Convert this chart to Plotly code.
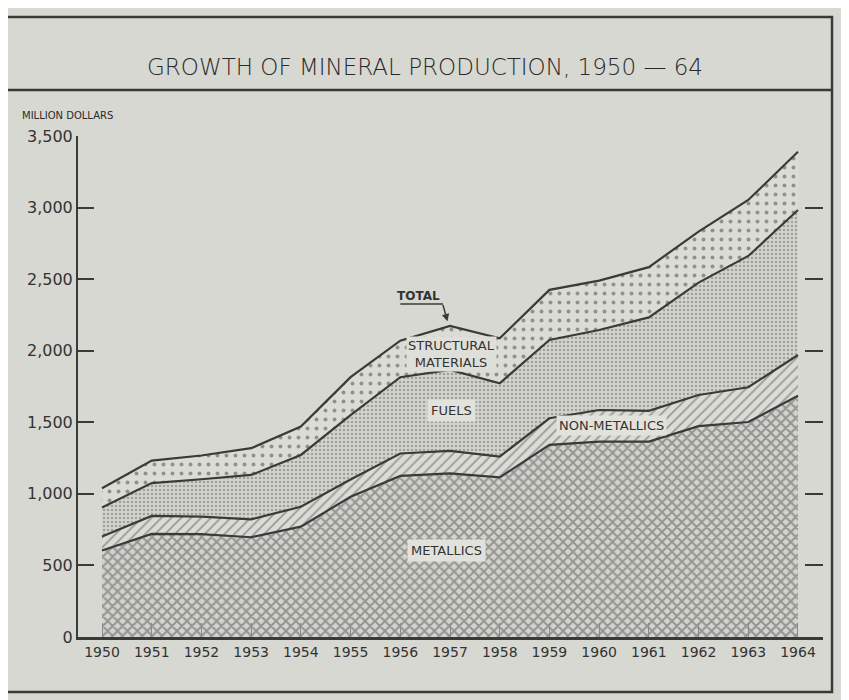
import plotly.graph_objects as go

years = list(range(1950, 1965))
metallics = [604, 720, 718, 697, 771, 980, 1125, 1143, 1115, 1342, 1365, 1365, 1473, 1502, 1685]
non_metallics = [98, 126, 123, 125, 139, 120, 157, 157, 145, 186, 221, 215, 218, 243, 285]
fuels = [202, 229, 261, 310, 362, 450, 533, 566, 513, 547, 559, 653, 785, 917, 1013]
structural = [135, 157, 166, 187, 198, 265, 255, 307, 314, 350, 345, 351, 356, 391, 407]
y_ticks = [0, 500, 1000, 1500, 2000, 2500, 3000, 3500]
y_tick_labels = ["0", "500", "1,000", "1,500", "2,000", "2,500", "3,000", "3,500"]

BG = "rgb(216,216,210)"
LINE = "#3a3a3a"
INK = "#333333"
FONT = "DejaVu Sans"

fig = go.Figure()

series = [
    ("Metallics", metallics, dict(shape="x", size=7, solidity=0.5, fgcolor="#555555", bgcolor="#d4d4ce")),
    ("Non-metallics", non_metallics, dict(shape="/", size=7, solidity=0.25, fgcolor="#555555", bgcolor="#dcdcd6")),
    ("Fuels", fuels, dict(shape=".", size=4, solidity=0.32, fgcolor="#6a6a6a", bgcolor="#d4d4ce")),
    ("Structural materials", structural, dict(shape=".", size=9, solidity=0.15, fgcolor="#444444", bgcolor="#dcdcd6")),
]
for name, vals, pat in series:
    fig.add_trace(go.Scatter(
        x=years, y=vals, name=name, stackgroup="one", mode="lines",
        line=dict(color=LINE, width=2.2), fillpattern=pat, fillcolor="#dcdcd6",
        hoverinfo="x+y+name",
    ))

# right-side tick dashes
fig.add_trace(go.Scatter(x=[years[0]], y=[0], yaxis="y2", mode="markers",
                         marker=dict(opacity=0), showlegend=False, hoverinfo="skip"))

fig.update_layout(
    width=841, height=692,
    margin=dict(l=70, r=26, t=128, b=63),
    paper_bgcolor=BG, plot_bgcolor=BG,
    showlegend=False,
    font=dict(family=FONT, color=INK),
    xaxis=dict(
        range=[1949.517, 1964.503], tickmode="array", tickvals=years,
        ticktext=[str(y) for y in years], ticks="inside", ticklen=14,
        tickcolor="#8a8a8a", tickwidth=1, showgrid=False, zeroline=False,
        showline=True, linecolor=LINE, linewidth=3,
        tickfont=dict(family=FONT, size=14, color=INK),
    ),
    yaxis=dict(
        range=[0, 3500], tickmode="array", tickvals=y_ticks, ticktext=y_tick_labels,
        ticks="inside", ticklen=16, tickwidth=2, tickcolor=LINE,
        showgrid=False, zeroline=False, showline=True, linecolor=LINE, linewidth=2,
        tickfont=dict(family=FONT, size=16, color=INK),
    ),
    yaxis2=dict(
        range=[0, 3500], overlaying="y", side="right", tickmode="array",
        tickvals=y_ticks[1:], ticks="inside", ticklen=18, tickwidth=2, tickcolor=LINE,
        showticklabels=False, showgrid=False, zeroline=False, showline=False,
    ),
)

# frame and title box (paper coordinates)
fig.add_shape(type="rect", xref="paper", yref="paper", x0=-0.0966, x1=1.0121,
              y0=-0.1098, y1=1.2375, line=dict(color=LINE, width=2.5), layer="below")
fig.add_shape(type="line", xref="paper", yref="paper", x0=-0.0966, x1=1.0121,
              y0=1.0918, y1=1.0918, line=dict(color=LINE, width=2.5))

fig.add_annotation(text="GROWTH OF MINERAL PRODUCTION, 1950 — 64", xref="paper", yref="paper",
                   x=0.4658, y=1.1677, showarrow=False,
                   font=dict(family=FONT, size=23, color="#2a2a2a", weight=300))
fig.add_annotation(text="MILLION DOLLARS", xref="paper", yref="paper", x=-0.0779, y=1.040,
                   xanchor="left", yanchor="middle", showarrow=False,
                   font=dict(family=FONT, size=10, color="#2a2a2a"))

lab_font = dict(family=FONT, size=13, color=INK)
fig.add_annotation(text="TOTAL", x=1956.36, y=2383, showarrow=False,
                   font=dict(family=FONT, size=12, color=INK, weight="bold"))
fig.add_shape(type="line", x0=1956.0, x1=1956.86, y0=2327, y1=2327,
              line=dict(color=LINE, width=1.5))
fig.add_annotation(text="", x=1956.95, y=2205, ax=-5, ay=-18, showarrow=True,
                   arrowhead=2, arrowsize=1, arrowwidth=1.5, arrowcolor=LINE)
fig.add_annotation(text="STRUCTURAL<br>MATERIALS", x=1957.04, y=1978, showarrow=False,
                   font=lab_font, bgcolor="#dfdfd9")
fig.add_annotation(text="FUELS", x=1957.02, y=1579, showarrow=False, font=lab_font,
                   bgcolor="#e2e2dc", borderpad=3)
fig.add_annotation(text="NON-METALLICS", x=1960.24, y=1481, showarrow=False, font=lab_font,
                   bgcolor="#e2e2dc", borderpad=2)
fig.add_annotation(text="METALLICS", x=1956.92, y=601, showarrow=False, font=lab_font,
                   bgcolor="#e2e2dc", borderpad=3)

fig.write_html("out.html")
